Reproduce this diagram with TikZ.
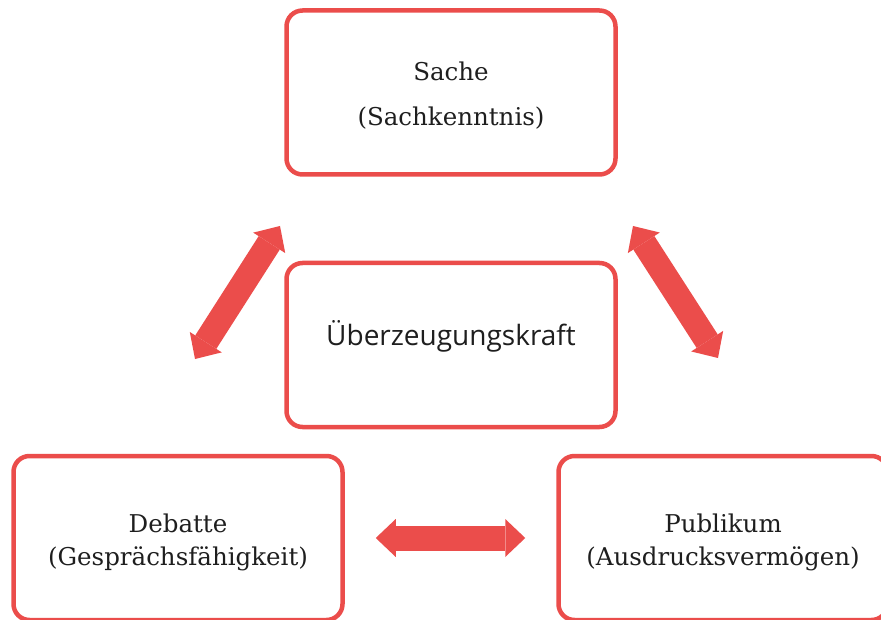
\documentclass[tikz,border=0pt]{standalone}
\usepackage{fontspec}
\setmainfont{DejaVu Serif}
\newfontfamily\kraftfont{Open Sans}
\usetikzlibrary{arrows.meta}
\definecolor{boxred}{RGB}{235,77,75}
\definecolor{boxtext}{RGB}{30,30,30}
\newcommand{\boxlines}[3][0pt]{\raisebox{-4pt}[\height][\depth]{\begin{tabular}{@{}c@{}}#2\\[#1]#3\end{tabular}}}
\tikzset{node distance=252.5pt, auto,
  box/.style={draw=boxred, line width=4.5pt, rounded corners=16pt,
    minimum width=329pt, minimum height=164pt, align=center,
    text=boxtext, font=\fontsize{24.5}{33}\selectfont},
  dblarrow/.style={boxred, line width=25pt,
    {Triangle[width=38pt,length=20pt,line width=0pt]}-{Triangle[width=38pt,length=20pt,line width=0pt]}}}

\begin{document}
\begin{tikzpicture}[x=1pt,y=-1pt]
  \useasboundingbox (0,0) rectangle (881,620);
  \node[box] (sache) at (451,92.5) {\boxlines[12pt]{Sache}{(Sachkenntnis)}};
  \node[box] (kraft) [below of=sache] {\raisebox{9pt}[\height][\depth]{\kraftfont\fontsize{28}{34}\selectfont Überzeugungskraft}};
  \node[box] (debatte) at (178,538) {\boxlines{Debatte}{(Gesprächsfähigkeit)}};
  \node[box] (publikum) [right of=debatte, node distance=545pt] {\boxlines{Publikum}{(Ausdrucksvermögen)}};
  % free ends of the slanted arrows
  \coordinate (sacheL) at (280,226);
  \coordinate (debatteT) at (195,359);
  \coordinate (sacheR) at (633,226);
  \coordinate (publikumT) at (718,358);
  \draw[dblarrow] (debatteT) -- (sacheL);
  \draw[dblarrow] (sacheR) -- (publikumT);
  \draw[dblarrow, shorten <=31pt, shorten >=31pt] (debatte.east) -- (publikum.west);
\end{tikzpicture}
\end{document}
